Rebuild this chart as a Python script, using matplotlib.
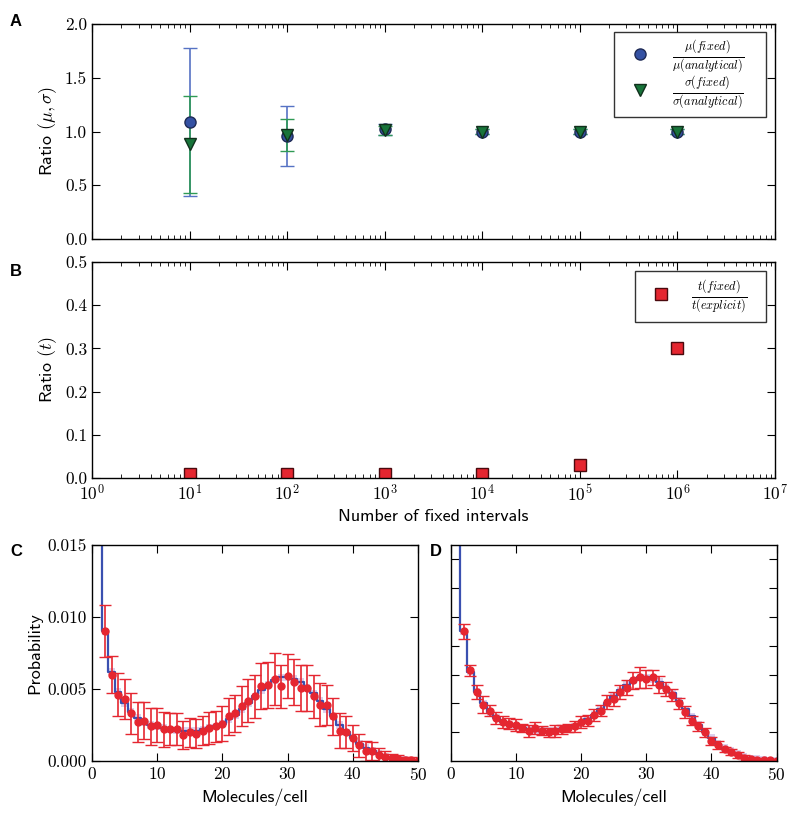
import numpy as np
import matplotlib
matplotlib.use("Agg")
import matplotlib.pyplot as plt
from matplotlib.ticker import FixedLocator, FuncFormatter, LogLocator, NullFormatter

plt.rcParams["font.family"] = "cmr10"
plt.rcParams["mathtext.fontset"] = "cm"
plt.rcParams["axes.unicode_minus"] = False
plt.rcParams["axes.formatter.use_mathtext"] = True

# panel A / B data
n_intervals = [1e1, 1e2, 1e3, 1e4, 1e5, 1e6]
mu_ratio = [1.09, 0.96, 1.02, 1.00, 1.00, 1.00]
mu_err = [0.69, 0.28, 0.05, 0.02, 0.02, 0.02]
sigma_ratio = [0.88, 0.97, 1.01, 1.00, 1.00, 1.00]
sigma_err = [0.45, 0.15, 0.04, 0.02, 0.02, 0.02]
time_ratio = [0.01, 0.01, 0.01, 0.01, 0.03, 0.30]

# panel C / D data (molecules per cell)
molecules = list(range(1, 51))
analytic = [0.05, 0.0090, 0.0062, 0.0048, 0.0040, 0.0034, 0.0030, 0.0027, 0.0025, 0.0024,
            0.0023, 0.0022, 0.0021, 0.0021, 0.0021, 0.0021, 0.0022, 0.0023, 0.0024, 0.0026,
            0.0029, 0.0032, 0.0036, 0.0040, 0.0045, 0.0049, 0.0053, 0.0056, 0.0058, 0.0058,
            0.0057, 0.0055, 0.0051, 0.0047, 0.0042, 0.0036, 0.0031, 0.0025, 0.0020, 0.0016,
            0.0012, 0.0009, 0.0007, 0.0005, 0.0003, 0.0002, 0.00015, 0.0001, 0.00006, 0.00004]

sample_x = list(range(2, 51))
fixed_c = [0.0090, 0.0060, 0.0046, 0.0043, 0.0033, 0.0027, 0.0028, 0.0024, 0.0025, 0.0022,
           0.0022, 0.0022, 0.0018, 0.0020, 0.0019, 0.0021, 0.0023, 0.0024, 0.0026, 0.0031,
           0.0033, 0.0038, 0.0042, 0.0045, 0.0052, 0.0053, 0.0057, 0.0052, 0.0059, 0.0055,
           0.0051, 0.0051, 0.0045, 0.0039, 0.0039, 0.0031, 0.0021, 0.0020, 0.0016, 0.0011,
           0.0007, 0.0007, 0.0004, 0.0003, 0.0002, 0.00012, 0.00008, 0.00005, 0.00003]
err_c = [0.0018, 0.0013, 0.0015, 0.0014, 0.0014, 0.0014, 0.0013, 0.0013, 0.0012, 0.0012,
         0.0011, 0.0011, 0.0010, 0.0010, 0.0010, 0.0010, 0.0011, 0.0011, 0.0012, 0.0013,
         0.0013, 0.0014, 0.0015, 0.0015, 0.0016, 0.0016, 0.0018, 0.0015, 0.0015, 0.0016,
         0.0016, 0.0016, 0.0015, 0.0015, 0.0014, 0.0013, 0.0012, 0.0011, 0.0009, 0.0008,
         0.0007, 0.0006, 0.0005, 0.0004, 0.0003, 0.0003, 0.0002, 0.0002, 0.0001]
fixed_d = [0.0090, 0.0063, 0.0048, 0.0039, 0.0035, 0.0030, 0.0027, 0.0026, 0.0025, 0.0023,
           0.0021, 0.0023, 0.0021, 0.0020, 0.0021, 0.0022, 0.0023, 0.0024, 0.0027, 0.0028,
           0.0032, 0.0035, 0.0041, 0.0043, 0.0048, 0.0051, 0.0056, 0.0058, 0.0057, 0.0058,
           0.0053, 0.0050, 0.0046, 0.0040, 0.0034, 0.0028, 0.0024, 0.0020, 0.0014, 0.0011,
           0.0008, 0.0006, 0.0004, 0.00023, 0.00015, 0.0001, 0.00007, 0.00004, 0.00002]
err_d = [0.0005, 0.0004, 0.0005, 0.0006, 0.0004, 0.0004, 0.0004, 0.0004, 0.0004, 0.0003,
         0.0004, 0.0004, 0.0003, 0.0003, 0.0004, 0.0003, 0.0003, 0.0004, 0.0004, 0.0004,
         0.0004, 0.0004, 0.0005, 0.0005, 0.0005, 0.0005, 0.0006, 0.0007, 0.0006, 0.0005,
         0.0006, 0.0005, 0.0004, 0.0004, 0.0004, 0.0003, 0.0003, 0.0003, 0.0003, 0.0003,
         0.0002, 0.0002, 0.0002, 0.0002, 0.0001, 0.0001, 0.0001, 0.0001, 0.0001]

BLUE = "#3451a3"
BLUE_ERR = "#5672c4"
GREEN = "#18743a"
GREEN_ERR = "#2f9a55"
RED = "#e52630"
STEP_BLUE = "#3a50b0"
SANS = "cmss10"


def style_axes(ax):
    ax.tick_params(which="both", direction="in", top=True, right=True, labelsize=12.5)
    ax.tick_params(which="major", length=6)
    ax.tick_params(which="minor", length=3)
    for sp in ax.spines.values():
        sp.set_linewidth(1.0)


def log_fmt(v, pos):
    return r"$10^{%d}$" % int(round(np.log10(v)))


fig = plt.figure(figsize=(7.91, 8.14), dpi=100)
ax_a = fig.add_axes([0.1163, 0.7064, 0.8635, 0.2641])
ax_b = fig.add_axes([0.1163, 0.4128, 0.8635, 0.2654])
ax_c = fig.add_axes([0.1163, 0.0651, 0.4121, 0.2654])
ax_d = fig.add_axes([0.5698, 0.0651, 0.4121, 0.2654])

# panel A
ax_a.errorbar(n_intervals, mu_ratio, yerr=mu_err, fmt="o", color=BLUE, ecolor=BLUE_ERR,
              mec="#1e2a55", ms=8, capsize=5, elinewidth=1.2, capthick=1.0,
              label=r"$\frac{\mu(fixed)}{\mu(analytical)}$")
ax_a.errorbar(n_intervals, sigma_ratio, yerr=sigma_err, fmt="v", color=GREEN, ecolor=GREEN_ERR,
              mec="#10301c", ms=8, capsize=5, elinewidth=1.2, capthick=1.0,
              label=r"$\frac{\sigma(fixed)}{\sigma(analytical)}$")
ax_a.set_xscale("log")
ax_a.set_xlim(1, 1e7)
ax_a.set_ylim(0, 2.0)
ax_a.set_yticks([0.0, 0.5, 1.0, 1.5, 2.0])
ax_a.yaxis.set_major_formatter(FuncFormatter(lambda v, p: "%.1f" % v))
ax_a.xaxis.set_major_locator(LogLocator(base=10, numticks=20))
ax_a.xaxis.set_minor_locator(LogLocator(base=10, subs=np.arange(2, 10), numticks=20))
ax_a.xaxis.set_major_formatter(NullFormatter())
ax_a.xaxis.set_minor_formatter(NullFormatter())
ax_a.set_ylabel(r"Ratio $(\mu,\sigma)$", fontfamily=SANS, fontsize=13)
style_axes(ax_a)
handles, labels = ax_a.get_legend_handles_labels()
handles = [h[0] for h in handles]
leg = ax_a.legend(handles, labels, loc="upper left", mode="expand",
                  bbox_to_anchor=(0.764, 0.5, 0.223, 0.463),
                  borderaxespad=0, numpoints=1, fontsize=12.5, fancybox=False,
                  edgecolor="black", handlelength=2.3, handletextpad=0.7,
                  borderpad=0.35, labelspacing=-0.05)
leg.get_frame().set_linewidth(1.0)

# panel B
ax_b.plot(n_intervals, time_ratio, "s", color=RED, mec="#4a0a0e", ms=9,
          label=r"$\frac{t(fixed)}{t(explicit)}$")
ax_b.set_xscale("log")
ax_b.set_xlim(1, 1e7)
ax_b.set_ylim(0, 0.5)
ax_b.set_yticks([0.0, 0.1, 0.2, 0.3, 0.4, 0.5])
ax_b.yaxis.set_major_formatter(FuncFormatter(lambda v, p: "%.1f" % v))
ax_b.xaxis.set_major_locator(LogLocator(base=10, numticks=20))
ax_b.xaxis.set_minor_locator(LogLocator(base=10, subs=np.arange(2, 10), numticks=20))
ax_b.xaxis.set_major_formatter(FuncFormatter(log_fmt))
ax_b.xaxis.set_minor_formatter(NullFormatter())
ax_b.set_ylabel(r"Ratio $(t)$", fontfamily=SANS, fontsize=13)
ax_b.set_xlabel("Number of fixed intervals", fontfamily=SANS, fontsize=13)
style_axes(ax_b)
leg_b = ax_b.legend(loc="upper left", mode="expand",
                    bbox_to_anchor=(0.795, 0.5, 0.192, 0.458), borderaxespad=0,
                    numpoints=1, fontsize=12.5, fancybox=False, edgecolor="black",
                    handlelength=2.2, handletextpad=0.6, borderpad=0.4)
leg_b.get_frame().set_linewidth(1.0)

# panels C and D
for ax, vals, errs, yticks in [(ax_c, fixed_c, err_c, [0.0, 0.005, 0.010, 0.015]),
                               (ax_d, fixed_d, err_d, [0.002, 0.004, 0.006, 0.008, 0.010, 0.012, 0.014])]:
    ana = np.array(analytic)
    ax.fill_between(molecules, ana - 0.00025, ana + 0.00025, step="mid",
                    color="#b497d6", alpha=0.45, lw=0)
    ax.plot(molecules, analytic, drawstyle="steps-mid", color=STEP_BLUE, lw=1.6)
    ax.errorbar(sample_x, vals, yerr=errs, fmt="o", color=RED, ecolor=RED, ms=5,
                mec=RED, capsize=4, elinewidth=1.2, capthick=1.0)
    ax.set_xlim(0, 50)
    ax.set_ylim(0, 0.015)
    ax.set_xticks([0, 10, 20, 30, 40, 50])
    ax.yaxis.set_major_locator(FixedLocator(yticks))
    ax.set_xlabel("Molecules/cell", fontfamily=SANS, fontsize=13)
    style_axes(ax)

ax_c.yaxis.set_major_formatter(FuncFormatter(lambda v, p: "%.3f" % v))
ax_c.set_ylabel("Probability", fontfamily=SANS, fontsize=13)
ax_d.yaxis.set_major_formatter(NullFormatter())

# panel letters
for txt, x, y in [("A", 10, 21), ("B", 10, 272), ("C", 10, 552), ("D", 430, 552)]:
    fig.text(x / 791, 1 - y / 814, txt, fontfamily="Liberation Sans", fontweight="bold",
             fontsize=12, ha="left", va="center")

fig.savefig("out.png", dpi=100)
